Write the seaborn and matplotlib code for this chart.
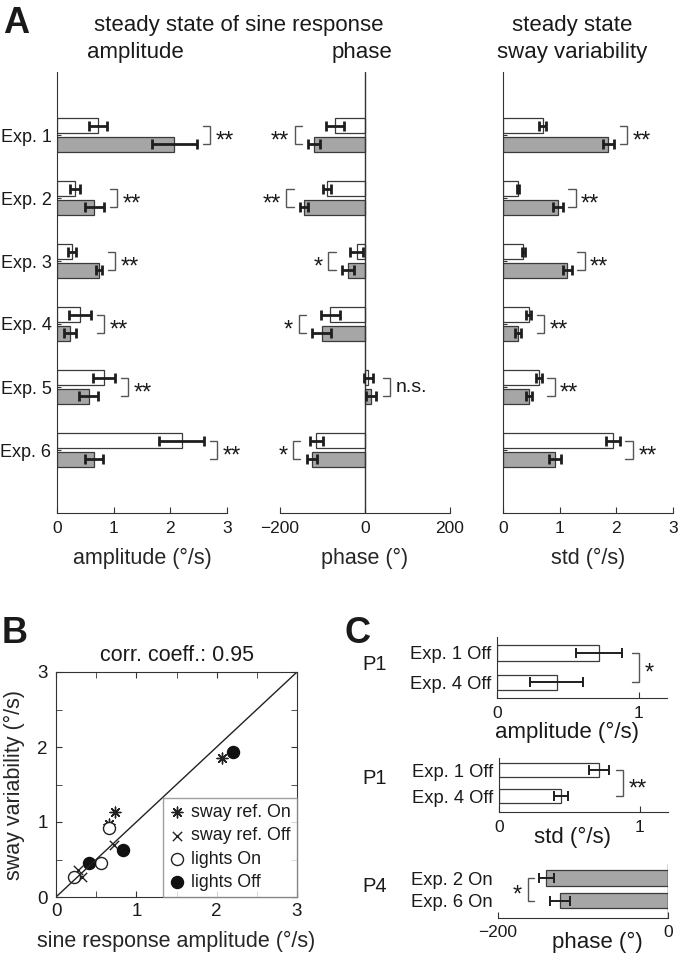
import numpy as np
import pandas as pd
import matplotlib
matplotlib.use('Agg')
import matplotlib.pyplot as plt
import seaborn as sns

# --- Panel A: steady state per experiment (Off = white bars, On = gray bars)
exps = ['Exp. 1', 'Exp. 2', 'Exp. 3', 'Exp. 4', 'Exp. 5', 'Exp. 6']
amp_off = [0.72, 0.32, 0.27, 0.41, 0.83, 2.20]
amp_off_err = [0.16, 0.09, 0.07, 0.19, 0.20, 0.40]
amp_on = [2.07, 0.66, 0.74, 0.23, 0.56, 0.66]
amp_on_err = [0.40, 0.17, 0.06, 0.10, 0.17, 0.16]
phase_off = [-70, -90, -20, -82, 8, -115]
phase_off_err = [21, 9, 16, 22, 10, 15]
phase_on = [-120, -143, -40, -102, 15, -125]
phase_on_err = [13, 10, 14, 22, 12, 12]
var_off = [0.70, 0.27, 0.36, 0.45, 0.63, 1.94]
var_off_err = [0.06, 0.02, 0.02, 0.05, 0.05, 0.12]
var_on = [1.86, 0.97, 1.13, 0.27, 0.46, 0.92]
var_on_err = [0.10, 0.08, 0.08, 0.05, 0.05, 0.10]
sig_amp = ['**', '**', '**', '**', '**', '**']
sig_phase = ['**', '**', '*', '*', 'n.s.', '*']
sig_var = ['**', '**', '**', '**', '**', '**']

# --- Panel B: Exp. 1-3 are sway-referenced, Exp. 4-6 are lights experiments
corr_text = 'corr. coeff.: 0.95'

# --- Panel C: single participants
c1_labels = ['Exp. 1 Off', 'Exp. 4 Off']
c1_amp = [0.72, 0.42]
c1_amp_err = [0.16, 0.19]
c2_std = [0.71, 0.44]
c2_std_err = [0.07, 0.05]
c3_labels = ['Exp. 2 On', 'Exp. 6 On']
c3_phase = [-143, -127]
c3_phase_err = [9, 12]

sns.set_style('ticks')
plt.rcParams['font.family'] = ['Liberation Sans', 'DejaVu Sans']
plt.rcParams['text.color'] = '#1a1a1a'
plt.rcParams['axes.edgecolor'] = '#333333'
plt.rcParams['xtick.color'] = '#333333'
plt.rcParams['ytick.color'] = '#333333'
plt.rcParams['xtick.labelcolor'] = '#1a1a1a'
plt.rcParams['ytick.labelcolor'] = '#1a1a1a'

GRAY = '#a6a6a6'
EDGE = '#3a3a3a'
ERR = '#1e1e1e'
BR = '#555555'

W, H = 679, 956
fig = plt.figure(figsize=(W / 100, H / 100), dpi=100)


def add_ax(l, t, r, b):
    return fig.add_axes([l / W, 1 - b / H, (r - l) / W, (b - t) / H])


def ftext(x, y, s, **kw):
    fig.text(x / W, 1 - y / H, s, **kw)


def bracket(ax, y1, y2, x_end, side, arm, vert, label):
    d = 1 if side == 'right' else -1
    xa, xv = x_end + d * arm, x_end + d * vert
    ax.plot([xa, xv, xv, xa], [y1, y1, y2, y2], color=BR, lw=1,
            solid_joinstyle='miter', clip_on=False)
    if '*' in label:
        fs, dy = 17, -4.5
    else:
        fs, dy = 14, 0
    ax.annotate(label, xy=(xv, (y1 + y2) / 2), xytext=(d * 4, dy),
                textcoords='offset points', ha='left' if d > 0 else 'right',
                va='center', fontsize=fs)


def pair_panel(ax, off, off_err, on, on_err, sig, arm, vert):
    df = pd.DataFrame({'exp': exps * 2, 'cond': ['Off'] * 6 + ['On'] * 6,
                       'val': off + on})
    sns.barplot(data=df, x='val', y='exp', hue='cond', hue_order=['Off', 'On'],
                palette={'Off': 'white', 'On': GRAY}, orient='h', width=0.6,
                gap=0.2, errorbar=None, edgecolor=EDGE, linewidth=0.9,
                legend=False, ax=ax)
    centers = []
    for cont, vals, errs in zip(ax.containers, [off, on], [off_err, on_err]):
        ys = [p.get_y() + p.get_height() / 2 for p in cont]
        ax.errorbar(vals, ys, xerr=errs, fmt='none', ecolor=ERR, elinewidth=2,
                    capsize=3.5, capthick=2, zorder=3)
        centers.append(ys)
    for i, s in enumerate(sig):
        if off[i] + on[i] >= 0:
            end = max(off[i] + off_err[i], on[i] + on_err[i])
            side = 'right'
        else:
            end = min(off[i] - off_err[i], on[i] - on_err[i])
            side = 'left'
        bracket(ax, centers[0][i], centers[1][i], end, side, arm, vert, s)
    ax.set_ylim(6, -1)
    ax.set_ylabel('')
    ax.tick_params(axis='x', direction='in', length=4, pad=6, labelsize=12.5)
    ax.tick_params(axis='y', direction='in', length=3, pad=4, labelsize=13)
    sns.despine(ax=ax)


# ---------------- Panel A
ax_amp = add_ax(57, 72, 227, 513)
pair_panel(ax_amp, amp_off, amp_off_err, amp_on, amp_on_err, sig_amp, 0.1, 0.23)
ax_amp.set_xlim(0, 3)
ax_amp.set_xticks([0, 1, 2, 3])
ax_amp.set_xlabel('amplitude (°/s)', fontsize=15.5, labelpad=8)

ax_ph = add_ax(280, 72, 450, 513)
pair_panel(ax_ph, phase_off, phase_off_err, phase_on, phase_on_err, sig_phase, 15, 32)
ax_ph.set_xlim(-200, 200)
ax_ph.set_xticks([-200, 0, 200])
ax_ph.spines['left'].set_visible(False)
ax_ph.tick_params(axis='y', length=0, labelleft=False)
ax_ph.axvline(0, color='#333333', lw=1)
ax_ph.set_xlabel('phase (°)', fontsize=15.5, labelpad=8)

ax_var = add_ax(503, 72, 673, 513)
pair_panel(ax_var, var_off, var_off_err, var_on, var_on_err, sig_var, 0.1, 0.23)
ax_var.set_xlim(0, 3)
ax_var.set_xticks([0, 1, 2, 3])
ax_var.tick_params(axis='y', labelleft=False)
ax_var.set_xlabel('std (°/s)', fontsize=15.5, labelpad=8)

ftext(3, 33, 'A', fontsize=26, fontweight='bold', va='baseline')
ftext(239, 31, 'steady state of sine response', fontsize=16, ha='center', va='baseline')
ftext(135, 58, 'amplitude', fontsize=16, ha='center', va='baseline')
ftext(362, 58, 'phase', fontsize=16, ha='center', va='baseline')
ftext(572, 31, 'steady state', fontsize=16, ha='center', va='baseline')
ftext(572, 58, 'sway variability', fontsize=16, ha='center', va='baseline')

# ---------------- Panel B
axB = add_ax(56, 672, 297, 897)
axB.axline((0, 0), slope=1, color='#222222', lw=1)
sns.scatterplot(x=amp_on[:3], y=var_on[:3], marker=(8, 2, 0), s=60,
                color='#222222', linewidth=1, label='sway ref. On', ax=axB)
sns.scatterplot(x=amp_off[:3], y=var_off[:3], marker='x', s=45,
                color='#222222', linewidth=1, label='sway ref. Off', ax=axB)
sns.scatterplot(x=amp_on[3:], y=var_on[3:], marker='o', s=75,
                facecolor='white', edgecolor='#222222', linewidth=1,
                label='lights On', ax=axB)
sns.scatterplot(x=amp_off[3:], y=var_off[3:], marker='o', s=75,
                color='#111111', edgecolor='#111111', linewidth=1,
                label='lights Off', ax=axB)
axB.set_xlim(0, 3)
axB.set_ylim(0, 3)
axB.set_xticks([0, 1, 2, 3])
axB.set_yticks([0, 1, 2, 3])
axB.set_xticks(np.arange(0, 3.01, 0.5), minor=True)
axB.set_yticks(np.arange(0, 3.01, 0.5), minor=True)
axB.tick_params(which='both', direction='in', top=True, right=True, length=4,
                labelsize=13.5)
axB.tick_params(axis='x', pad=4)
axB.tick_params(axis='y', pad=6)
axB.set_title(corr_text, fontsize=15.5, pad=8)
axB.set_xlabel('sine response amplitude (°/s)', fontsize=15.5, labelpad=8)
axB.set_ylabel('sway variability (°/s)', fontsize=15.5, labelpad=9)
leg = axB.legend(loc='lower right', borderaxespad=0, fontsize=12.8,
                 frameon=True, fancybox=False, edgecolor='#888888',
                 handlelength=0.9, handletextpad=0.35, labelspacing=0.35,
                 borderpad=0.35)
leg.get_frame().set_linewidth(1)
ftext(2, 643, 'B', fontsize=26, fontweight='bold', va='baseline')


# ---------------- Panel C
def single_panel(ax, labels, vals, errs, color, width):
    df = pd.DataFrame({'lab': labels, 'val': vals})
    sns.barplot(data=df, x='val', y='lab', orient='h', color=color,
                edgecolor=EDGE, linewidth=0.9, width=width, errorbar=None, ax=ax)
    ys = [p.get_y() + p.get_height() / 2 for p in ax.containers[0]]
    ax.errorbar(vals, ys, xerr=errs, fmt='none', ecolor=ERR, elinewidth=1.4,
                capsize=3.5, capthick=1.4, zorder=3)
    ax.set_xlabel('')
    ax.set_ylabel('')
    ax.tick_params(axis='y', length=0, pad=4, labelsize=13.2)
    ax.tick_params(axis='x', direction='in', length=4, labelsize=12.5)
    sns.despine(ax=ax)
    return ys


axC1 = add_ax(497, 637, 667, 698)
ys = single_panel(axC1, c1_labels, c1_amp, c1_amp_err, 'white', 0.52)
axC1.set_xlim(0, 1.2)
axC1.set_xticks([0, 1])
axC1.set_ylim(1.53, -0.54)
axC1.tick_params(axis='x', pad=6)
bracket(axC1, ys[0], ys[1], max(np.add(c1_amp, c1_amp_err)), 'right', 0.07, 0.12, '*')

axC2 = add_ax(499, 758, 668, 812)
ys = single_panel(axC2, c1_labels, c2_std, c2_std_err, 'white', 0.54)
axC2.set_xlim(0, 1.2)
axC2.set_xticks([0, 1])
axC2.set_ylim(1.6, -0.46)
axC2.tick_params(axis='x', pad=6)
bracket(axC2, ys[0], ys[1], max(np.add(c2_std, c2_std_err)), 'right', 0.05, 0.1, '**')

axC3 = add_ax(498, 864, 668, 918)
ys = single_panel(axC3, c3_labels, c3_phase, c3_phase_err, GRAY, 0.7)
axC3.set_xlim(-200, 0)
axC3.set_xticks([-200, 0])
axC3.set_ylim(1.78, -0.64)
axC3.spines['left'].set_visible(False)
axC3.axvline(0, color='#333333', lw=1)
axC3.tick_params(axis='x', pad=5)
bracket(axC3, ys[0], ys[1], min(np.subtract(c3_phase, c3_phase_err)), 'left', 6, 13, '*')

ftext(567, 732, 'amplitude (°/s)', fontsize=16, ha='center', va='center')
ftext(572, 837, 'std (°/s)', fontsize=16, ha='center', va='center')
ftext(597, 942, 'phase (°)', fontsize=16, ha='center', va='center')
ftext(375, 665, 'P1', fontsize=14.5, ha='center', va='center')
ftext(375, 778, 'P1', fontsize=14.5, ha='center', va='center')
ftext(375, 887, 'P4', fontsize=14.5, ha='center', va='center')
ftext(345, 643, 'C', fontsize=26, fontweight='bold', va='baseline')

fig.savefig('out.png', dpi=100)
